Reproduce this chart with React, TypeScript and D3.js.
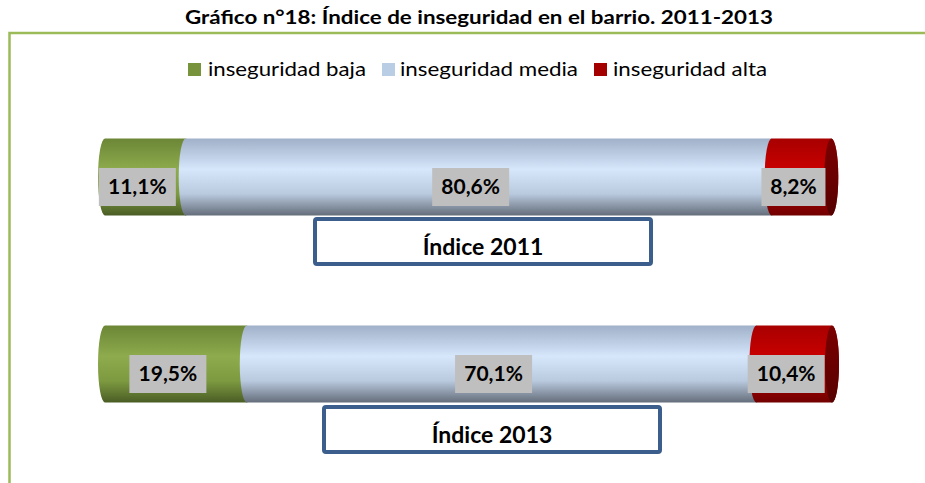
import React from 'react';
import * as d3 from 'd3';

// chart data
const years = ['2011', '2013'];
const categories = ['inseguridad baja', 'inseguridad media', 'inseguridad alta'];
const baja = [11.1, 19.5];
const media = [80.6, 70.1];
const alta = [8.2, 10.4];
const indexLabels = ['Índice 2011', 'Índice 2013'];

const W = 925;
const H = 483;
const FONT = "Lato, 'Open Sans', sans-serif";

// gradient stops per category (top -> bottom)
const shades: string[][] = [
  ['#6b8636', '#8eab4d', '#7d9a40', '#4a5d25'],
  ['#9fb0c8', '#d6e7fc', '#b9c9de', '#646d7a'],
  ['#a80000', '#c80000', '#a00000', '#720000'],
];
const legendColors = ['#77933c', '#b9cde5', '#a50000'];

const fmt = (v: number) => v.toFixed(1).replace('.', ',') + '%';

const App: React.FC = () => {
  const x = d3.scaleLinear().domain([0, 100]).range([105, 832]);
  const y = d3.scalePoint<string>().domain(years).range([177, 364]);
  const barH = 77;
  const rx = 7;
  const ry = barH / 2;

  const series = [baja, media, alta];

  const segPath = (x0: number, x1: number, cy: number) => {
    const t = cy - ry;
    const b = cy + ry;
    return `M${x0},${t} L${x1},${t} A${rx},${ry} 0 0 1 ${x1},${b} L${x0},${b} A${rx},${ry} 0 0 1 ${x0},${t} Z`;
  };

  // legend layout
  const legend = [
    { sq: 188, tx: 208, len: 158 },
    { sq: 382, tx: 400, len: 178 },
    { sq: 594, tx: 613, len: 154 },
  ];
  const indexBox = [
    { cx: 483, top: 219 },
    { cx: 492, top: 407 },
  ];

  return (
    <svg width={W} height={H} style={{ position: 'absolute', left: 0, top: 0, background: '#fff' }}>
      <defs>
        {shades.map((s, i) => (
          <linearGradient key={i} id={`g${i}`} x1="0" y1="0" x2="0" y2="1">
            <stop offset="0" stopColor={s[0]} />
            <stop offset="0.4" stopColor={s[1]} />
            <stop offset="0.72" stopColor={s[2]} />
            <stop offset="1" stopColor={s[3]} />
          </linearGradient>
        ))}
        <linearGradient id="cap" x1="0" y1="0" x2="0" y2="1">
          <stop offset="0" stopColor="#7a0000" />
          <stop offset="0.5" stopColor="#6a0000" />
          <stop offset="1" stopColor="#560000" />
        </linearGradient>
      </defs>

      {/* title */}
      <text x={479} y={24} textAnchor="middle" fontFamily={FONT} fontWeight="bold" fontSize={19}
        textLength={588} lengthAdjust="spacingAndGlyphs" fill="#000">
        Gráfico n°18: Índice de inseguridad en el barrio. 2011-2013
      </text>

      {/* frame */}
      <path d={`M9.5,${H} V33 H${W}`} fill="none" stroke="#9bbb59" strokeWidth={2.5} />

      {/* legend */}
      {categories.map((c, i) => (
        <g key={c}>
          <rect x={legend[i].sq} y={63} width={13} height={13} fill={legendColors[i]} />
          <text x={legend[i].tx} y={76} fontFamily={FONT} fontSize={20} fill="#000"
            textLength={legend[i].len} lengthAdjust="spacingAndGlyphs">{c}</text>
        </g>
      ))}

      {/* cylinders */}
      {years.map((yr, j) => {
        const cy = y(yr) as number;
        let cum = 0;
        const segs = series.map((s, i) => {
          const v0 = cum;
          cum += s[j];
          return { i, v0, v1: cum, v: s[j] };
        });
        return (
          <g key={yr}>
            {segs.map(s => (
              <path key={s.i} d={segPath(x(s.v0), x(s.v1), cy)} fill={`url(#g${s.i})`} />
            ))}
            <ellipse cx={x(cum)} cy={cy} rx={rx} ry={ry} fill="url(#cap)" />
            {segs.map(s => {
              const label = fmt(s.v);
              const bw = label.length * 13 + 12;
              const cx = x(s.v0 + s.v / 2) - 8;
              return (
                <g key={`l${s.i}`}>
                  <rect x={cx - bw / 2} y={cy - 9} width={bw} height={38} fill="#bfbfbf" />
                  <text x={cx} y={cy + 17} textAnchor="middle" fontFamily={FONT} fontWeight="bold"
                    fontSize={21} fill="#000">{label}</text>
                </g>
              );
            })}
          </g>
        );
      })}

      {/* index boxes */}
      {indexLabels.map((t, j) => (
        <g key={t}>
          <rect x={indexBox[j].cx - 168} y={indexBox[j].top} width={336} height={45} rx={2}
            fill="#fff" stroke="#3b5e8c" strokeWidth={4} />
          <text x={indexBox[j].cx} y={indexBox[j].top + 36} textAnchor="middle" fontFamily={FONT}
            fontWeight="bold" fontSize={23} fill="#000">{t}</text>
        </g>
      ))}
    </svg>
  );
};

export default App;
